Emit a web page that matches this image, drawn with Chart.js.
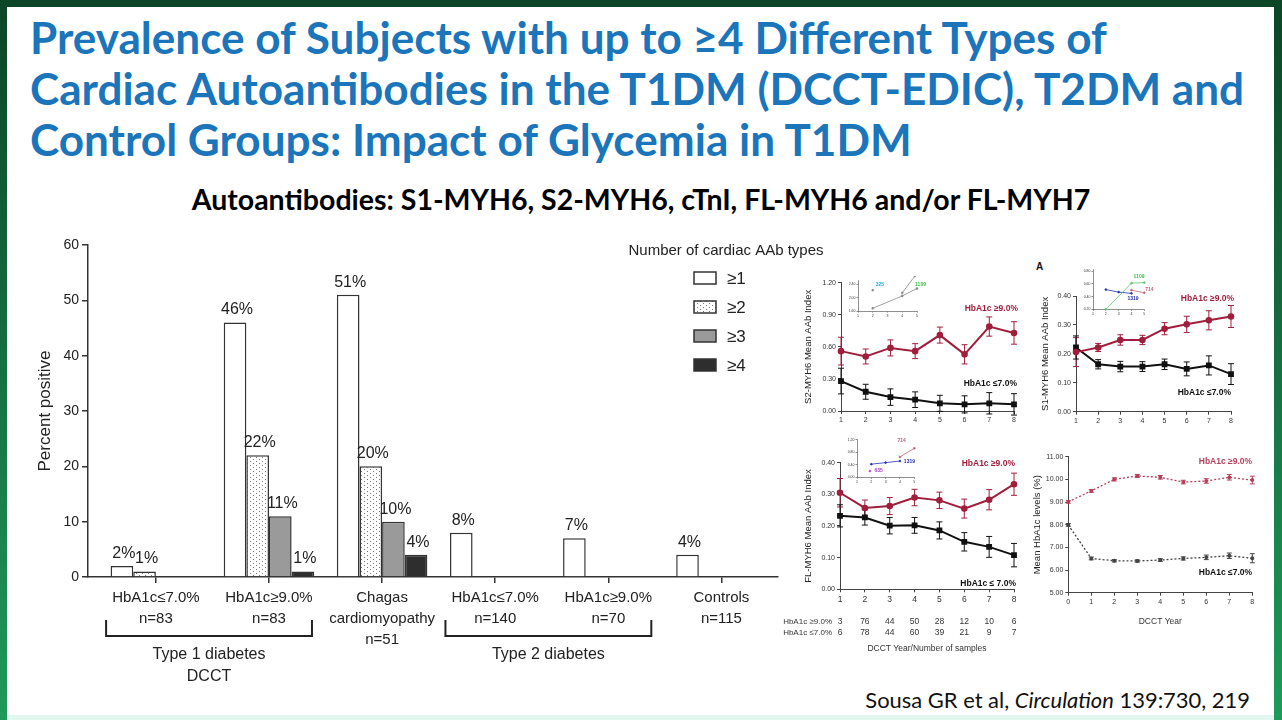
<!DOCTYPE html>
<html><head><meta charset="utf-8">
<script src="https://cdn.jsdelivr.net/npm/chart.js@4.4.1/dist/chart.umd.min.js"></script>
<style>
html,body{margin:0;padding:0;}
body{width:1282px;height:720px;position:relative;overflow:hidden;background:#fff;font-family:"Liberation Sans",Arial,sans-serif;}
.fr{position:absolute;}
#fT{left:0;top:0;width:1282px;height:7px;background:#0c4527;}
#fL{left:0;top:0;width:7px;height:720px;background:linear-gradient(#0c4527,#1f9a5a);}
#fR{right:0;top:0;width:8px;height:720px;background:linear-gradient(#0c4527,#1f9a5a);}
#fB{left:7px;bottom:0;width:1267px;height:5px;background:#e2f8ee;}
#title{position:absolute;left:30px;top:11px;font-family:Lato,"Open Sans",sans-serif;font-weight:bold;color:#1b75bb;font-size:36px;}
#title div{height:51px;line-height:51px;white-space:nowrap;}
#sub{position:absolute;left:0;width:1282px;top:184px;height:30px;line-height:30px;text-align:center;font-family:Lato,"Open Sans",sans-serif;font-weight:bold;color:#000;font-size:22px;white-space:nowrap;}
#cite{position:absolute;right:32px;top:685px;height:30px;line-height:30px;font-family:Lato,"Open Sans",sans-serif;color:#111;font-size:20px;white-space:nowrap;}
#lblA{position:absolute;left:1036px;top:261px;font:bold 10px "Liberation Sans",Arial,sans-serif;color:#111;}
</style></head>
<body>
<div class="fr" id="fT"></div><div class="fr" id="fL"></div><div class="fr" id="fR"></div><div class="fr" id="fB"></div>
<div id="title"><div><span id="t1">Prevalence of Subjects with up to ≥4 Different Types of</span></div><div><span>Cardiac Autoantibodies in the T1DM (DCCT-EDIC), T2DM and</span></div><div><span>Control Groups: Impact of Glycemia in T1DM</span></div></div>
<div id="sub"><span id="subs">Autoantibodies: S1-MYH6, S2-MYH6, cTnI, FL-MYH6 and/or FL-MYH7</span></div>
<div id="cite"><span id="cites">Sousa GR et al, <i>Circulation</i> 139:730, 219</span></div>
<div id="lblA">A</div>
<script>
// ---------------- DATA ----------------
const categories = [["HbA1c≤7.0%","n=83"],["HbA1c≥9.0%","n=83"],["Chagas","cardiomyopathy","n=51"],["HbA1c≤7.0%","n=140"],["HbA1c≥9.0%","n=70"],["Controls","n=115"]];
const seriesNames = ["≥1","≥2","≥3","≥4"];
const ge1 = [2,46,51,8,7,4];
const ge2 = [1,22,20,null,null,null];
const ge3 = [null,11,10,null,null,null];
const ge4 = [null,1,4,null,null,null];
const yTicksMain = [0,10,20,30,40,50,60];
const groupT1 = ["Type 1 diabetes","DCCT"];
const groupT2 = ["Type 2 diabetes"];
const legendTitle = "Number of cardiac AAb types";

const years = [1,2,3,4,5,6,7,8];
const s2High = [0.56,0.51,0.59,0.56,0.71,0.53,0.79,0.73];
const s2HighErr = [0.13,0.07,0.075,0.07,0.075,0.09,0.09,0.105];
const s2Low = [0.28,0.18,0.13,0.106,0.072,0.062,0.072,0.062];
const s2LowErr = [0.12,0.07,0.077,0.073,0.075,0.08,0.1,0.1];
const s2Ticks = [0,0.3,0.6,0.9,1.2];

const s1High = [0.206,0.222,0.248,0.248,0.287,0.302,0.316,0.329];
const s1HighErr = [0.05,0.014,0.018,0.016,0.021,0.028,0.033,0.038];
const s1Low = [0.222,0.164,0.156,0.156,0.164,0.148,0.16,0.13];
const s1LowErr = [0.04,0.016,0.018,0.017,0.018,0.024,0.033,0.036];
const s1Ticks = [0,0.1,0.2,0.3,0.4];

const flHigh = [0.305,0.257,0.263,0.29,0.281,0.255,0.283,0.332];
const flHighErr = [0.045,0.025,0.027,0.026,0.026,0.03,0.032,0.035];
const flLow = [0.232,0.227,0.201,0.202,0.186,0.15,0.134,0.108];
const flLowErr = [0.035,0.024,0.026,0.025,0.027,0.029,0.033,0.037];
const flTicks = [0,0.1,0.2,0.3,0.4];
const nHigh = [3,76,44,50,28,12,10,6];
const nLow = [6,78,44,60,39,21,9,7];

const hbaYears = [0,1,2,3,4,5,6,7,8];
const hbaHigh = [9.01,9.49,10.0,10.15,10.09,9.88,9.93,10.09,9.97];
const hbaHighErr = [0.06,0.06,0.07,0.07,0.08,0.08,0.1,0.12,0.17];
const hbaLow = [7.99,6.51,6.41,6.40,6.44,6.51,6.56,6.63,6.52];
const hbaLowErr = [0.06,0.06,0.05,0.05,0.06,0.07,0.1,0.12,0.2];
const hbaTicks = [5,6,7,8,9,10,11];

const labelHigh = "HbA1c ≥9.0%";
const labelLow = "HbA1c ≤7.0%";

// insets
const insAx1 = [2,4,5], insAy1 = [1.68,2.05,2.27];
const insAx2 = [4,4.85], insAy2 = [2.14,2.64];
const insAx3 = [2], insAy3 = [2.22];
const insATicks = [1.6,2.0,2.4];
const insBgreenX = [2,4,5], insBgreenY = [0.2,0.61,0.62];
const insBblueX = [2,3,4], insBblueY = [0.51,0.47,0.45];
const insBpinkX = [4,5], insBpinkY = [0.50,0.46];
const insBTicks = [0.2,0.4,0.6,0.8];
const insCblueX = [2,3,4], insCblueY = [0.42,0.47,0.52];
const insCpinkX = [4,5], insCpinkY = [0.65,0.93];
const insCpurpX = [1.9], insCpurpY = [0.2];
const insCTicks = [0,0.4,0.8,1.2];
const insXTicks = [1,2,3,4,5];

// ---------------- HELPERS ----------------
const FAM = '"Liberation Sans", Arial, sans-serif';
Chart.defaults.font.family = FAM;
Chart.defaults.color = '#222';
const RED = '#a01e3c', BLK = '#111';
const pts = (xs, ys) => xs.map((x,i)=>({x, y: ys[i]}));

function dotPattern(){
  const c=document.createElement('canvas'); c.width=6; c.height=4;
  const g=c.getContext('2d'); g.fillStyle='#fff'; g.fillRect(0,0,6,4);
  g.fillStyle='#7a7a7a'; g.fillRect(0,0,1,1); g.fillRect(3,2,1,1);
  return g.createPattern(c,'repeat');
}
function placeCanvas(rect){
  const d=document.createElement('div');
  d.style.cssText=`position:absolute;left:${rect[0]}px;top:${rect[1]}px;width:${rect[2]}px;height:${rect[3]}px;`;
  const c=document.createElement('canvas'); c.width=rect[2]; c.height=rect[3];
  c.style.width=rect[2]+'px'; c.style.height=rect[3]+'px';
  d.appendChild(c); document.body.appendChild(d); return c;
}

// ---------------- MAIN BAR CHART ----------------
const mainRect=[10,225,820,470];
const barStyles=[
  {bg:'#ffffff'},{bg:dotPattern()},{bg:'#9a9a9a'},{bg:'#2e2e2e'}
];
const barSeries=[ge1,ge2,ge3,ge4];

const valueLabels={id:'valueLabels',afterDatasetsDraw(chart){
  const ctx=chart.ctx; ctx.save();
  ctx.font='16px '+FAM; ctx.fillStyle='#222'; ctx.textAlign='center'; ctx.textBaseline='alphabetic';
  chart.data.datasets.forEach((ds,di)=>{
    chart.getDatasetMeta(di).data.forEach((el,i)=>{
      const v=ds.data[i].y; if(v==null) return;
      ctx.fillText(v+'%', el.x+2, el.y-8);
    });
  });
  ctx.restore();
}};
const brackets={id:'brackets',afterDraw(chart){
  const ctx=chart.ctx, x=chart.scales.x, a=chart.chartArea;
  const step=x.getPixelForValue(1)-x.getPixelForValue(0);
  ctx.save(); ctx.strokeStyle='#222'; ctx.lineWidth=2;
  ctx.font='16px '+FAM; ctx.fillStyle='#222'; ctx.textAlign='center'; ctx.textBaseline='middle';
  [[0,1,groupT1],[3,4,groupT2]].forEach(([f,t,lab])=>{
    const l=x.getPixelForValue(f)-0.44*step, r=x.getPixelForValue(t)+0.38*step;
    const yT=a.bottom+43, yB=a.bottom+59;
    ctx.beginPath(); ctx.moveTo(l,yT); ctx.lineTo(l,yB); ctx.lineTo(r,yB); ctx.lineTo(r,yT); ctx.stroke();
    lab.forEach((s,k)=>ctx.fillText(s,(l+r)/2,a.bottom+78+k*22));
  });
  ctx.restore();
}};
const barLegend={id:'barLegend',afterDraw(chart){
  const ctx=chart.ctx, a=chart.chartArea; ctx.save();
  ctx.font='15px '+FAM; ctx.fillStyle='#222'; ctx.textAlign='center'; ctx.textBaseline='middle';
  ctx.fillText(legendTitle, a.right-52, a.top+6);
  chart.data.datasets.forEach((ds,i)=>{
    const y=a.top+33+i*29, x=a.right-84;
    ctx.fillStyle=ds.backgroundColor; ctx.fillRect(x,y-6,22,12);
    ctx.strokeStyle='#333'; ctx.lineWidth=1.5; ctx.strokeRect(x,y-6,22,12);
    ctx.fillStyle='#222'; ctx.font='17px '+FAM; ctx.textAlign='left';
    ctx.fillText(ds.label, x+33, y+1);
  });
  ctx.restore();
}};

new Chart(placeCanvas(mainRect),{
  type:'bar',
  data:{datasets:barSeries.map((arr,i)=>({
    label:seriesNames[i], data:arr.map((v,k)=>({x:k,y:v})),
    backgroundColor:barStyles[i].bg, borderColor:'#333', borderWidth:1.5, borderSkipped:'start'
  }))},
  options:{
    responsive:false, animation:false, events:[],
    layout:{padding:{left:0,top:20,right:52,bottom:0}},
    plugins:{legend:{display:false},tooltip:{enabled:false}},
    datasets:{bar:{categoryPercentage:0.8,barPercentage:1.0}},
    scales:{
      x:{type:'linear',min:-0.6,max:5.5,offset:false,
        afterBuildTicks:s=>{s.ticks=categories.map((c,i)=>({value:i}));},
        ticks:{callback:v=>categories[v], font:{size:15,lineHeight:1.4}, color:'#222', maxRotation:0, autoSkip:false, padding:4},
        grid:{display:true,offset:false,drawOnChartArea:false,drawTicks:true,tickLength:6,color:'#333',lineWidth:1.5},
        border:{display:true,color:'#333',width:1.5},
        afterFit:s=>{s.height=118;}
      },
      y:{min:0,max:60,
        afterBuildTicks:s=>{s.ticks=yTicksMain.map(v=>({value:v}));},
        ticks:{font:{size:14},color:'#222',padding:3},
        grid:{drawOnChartArea:false,tickLength:6,color:'#333',lineWidth:1.5},
        border:{color:'#333',width:1.5},
        title:{display:true,text:'Percent positive',font:{size:17},color:'#222',padding:{top:25}},
        afterFit:s=>{s.width=78;}
      }
    }
  },
  plugins:[valueLabels,brackets,barLegend]
});

// ---------------- SMALL LINE CHARTS ----------------
const errPlugin={id:'errbars',beforeDatasetsDraw(chart){
  const ctx=chart.ctx, x=chart.scales.x, y=chart.scales.y;
  chart.data.datasets.forEach(ds=>{
    if(!ds.errors) return;
    ctx.save(); ctx.strokeStyle=ds.errColor||ds.borderColor; ctx.lineWidth=1; ctx.setLineDash([]);
    const cap=ds.cap||3;
    ds.data.forEach((p,i)=>{
      const e=ds.errors[i]; if(e==null) return;
      const px=x.getPixelForValue(p.x), y1=y.getPixelForValue(p.y+e), y2=y.getPixelForValue(p.y-e);
      ctx.beginPath(); ctx.moveTo(px,y1); ctx.lineTo(px,y2);
      ctx.moveTo(px-cap,y1); ctx.lineTo(px+cap,y1); ctx.moveTo(px-cap,y2); ctx.lineTo(px+cap,y2); ctx.stroke();
    });
    ctx.restore();
  });
}};
const textPlugin={id:'texts',afterDraw(chart){
  const o=chart.config.options.plugins.texts; if(!o) return;
  const ctx=chart.ctx, x=chart.scales.x, y=chart.scales.y;
  ctx.save();
  (o.items||[]).forEach(t=>{
    ctx.font=t.font; ctx.fillStyle=t.color; ctx.textAlign=t.align||'center'; ctx.textBaseline='middle';
    ctx.fillText(t.text, x.getPixelForValue(t.x), y.getPixelForValue(t.y));
  });
  if(o.rows){
    const lh=o.rows.lineHeight, top=x.top+o.rows.offset;
    ctx.font=o.rows.font; ctx.fillStyle='#333'; ctx.textAlign='right'; ctx.textBaseline='middle';
    o.rows.labels.forEach((s,k)=>{ if(s) ctx.fillText(s, x.left-8, top+lh*(k+0.5)); });
  }
  ctx.restore();
}};

function makeSmall(o){
  const [cx,cy,cw,ch]=o.rect; const [l,t,r,b]=o.area;
  const c=placeCanvas(o.rect);
  const tf=o.tickFont||7;
  return new Chart(c,{type:'line',data:{datasets:o.datasets},options:{
    responsive:false, animation:false, events:[],
    layout:{padding:{left:0,top:t-cy,right:cx+cw-r,bottom:0}},
    plugins:{legend:{display:false},tooltip:{enabled:false},texts:{items:o.texts||[],rows:o.rows}},
    scales:{
      x:{type:'linear',min:o.xMin,max:o.xMax,
        afterBuildTicks:s=>{s.ticks=o.xTicks.map(v=>({value:v}));},
        ticks:{font:{size:o.xTickFont||tf,lineHeight:o.xLH||1.2},color:'#333',padding:o.xPad??2,callback:o.xCb||(v=>String(v)),maxRotation:0,autoSkip:false},
        grid:{drawOnChartArea:false,tickLength:o.tl??3,color:'#444',lineWidth:o.axW||1},
        border:{color:'#444',width:o.axW||1},
        title:o.xTitle?{display:true,text:o.xTitle,font:{size:8.5},color:'#333',padding:{top:0,bottom:1}}:{display:false},
        afterFit:s=>{s.height=cy+ch-b;}
      },
      y:{min:o.yMin,max:o.yMax,
        afterBuildTicks:s=>{s.ticks=o.yTicks.map(v=>({value:v}));},
        ticks:{font:{size:tf},color:'#333',padding:o.yPad??2,callback:v=>v.toFixed(2)},
        grid:{drawOnChartArea:false,tickLength:o.tl??3,color:'#444',lineWidth:o.axW||1},
        border:{color:'#444',width:o.axW||1},
        title:o.yTitle?{display:true,text:o.yTitle,font:{size:9.5},color:'#222',padding:{top:o.yTitlePad||1}}:{display:false},
        afterFit:s=>{s.width=l-cx;}
      }
    }},plugins:[errPlugin,textPlugin]});
}
function lineDs(xs,ys,errs,color,shape,opts={}){
  return Object.assign({data:pts(xs,ys),errors:errs,borderColor:color,backgroundColor:color,borderWidth:2,
    pointRadius:shape==='rect'?2.7:2.3,pointStyle:shape,tension:0,clip:false},opts);
}
const boldLbl='bold 8.5px '+FAM;

// A: S2-MYH6
makeSmall({rect:[801,272,229,160],area:[841,282.7,1014,411],xMin:1,xMax:8,xTicks:years,yMin:0,yMax:1.2,yTicks:s2Ticks,
  yTitle:'S2-MYH6 Mean AAb Index',yTitlePad:1.3,
  datasets:[lineDs(years,s2High,s2HighErr,RED,'circle'),lineDs(years,s2Low,s2LowErr,BLK,'rect')],
  texts:[{text:labelHigh,x:8.16,y:0.96,color:RED,font:boldLbl,align:'right'},{text:labelLow,x:8.12,y:0.26,color:BLK,font:boldLbl,align:'right'}]});
// B: S1-MYH6
makeSmall({rect:[1037,285,218,147],area:[1076,296,1231,411.7],xMin:1,xMax:8,xTicks:years,yMin:0,yMax:0.4,yTicks:s1Ticks,
  yTitle:'S1-MYH6 Mean AAb Index',yTitlePad:2.3,
  datasets:[lineDs(years,s1High,s1HighErr,RED,'circle'),lineDs(years,s1Low,s1LowErr,BLK,'rect')],
  texts:[{text:labelHigh,x:8.14,y:0.39,color:RED,font:boldLbl,align:'right'},{text:labelLow,x:8.0,y:0.065,color:BLK,font:boldLbl,align:'right'}]});
// C: FL-MYH6 (canvas extends left to hold the sample-count row labels)
makeSmall({rect:[770,452,260,203],area:[840,462.7,1014,589.3],xMin:1,xMax:8,xTicks:years,yMin:0,yMax:0.4,yTicks:flTicks,
  yTitle:'FL-MYH6 Mean AAb Index',yTitlePad:32.3,xTitle:'DCCT Year/Number of samples',
  xTickFont:8.5,xLH:1.3,xCb:v=>[String(v),'',String(nHigh[v-1]),String(nLow[v-1])],
  rows:{labels:['','',labelHigh,labelLow],lineHeight:11.05,offset:5,font:'8px '+FAM},
  datasets:[lineDs(years,flHigh,flHighErr,RED,'circle'),lineDs(years,flLow,flLowErr,BLK,'rect')],
  texts:[{text:labelHigh,x:8.04,y:0.396,color:RED,font:boldLbl,align:'right'},{text:'HbA1c ≤ 7.0%',x:8.08,y:0.017,color:BLK,font:boldLbl,align:'right'}]});
// D: HbA1c
makeSmall({rect:[1030,446,232,182],area:[1068.3,456.7,1252.3,592.7],xMin:0,xMax:8,xTicks:hbaYears,yMin:5,yMax:11,yTicks:hbaTicks,
  yTitle:'Mean HbA1c levels (%)',yTitlePad:1.3,xTitle:'DCCT Year',
  datasets:[lineDs(hbaYears,hbaHigh,hbaHighErr,'#b5405a','circle',{borderWidth:1.3,borderDash:[2,2],pointRadius:1.3,cap:2.5}),
            lineDs(hbaYears,hbaLow,hbaLowErr,'#444','circle',{borderWidth:1.3,borderDash:[2,2],pointRadius:1.3,cap:2.5})],
  texts:[{text:labelHigh,x:7.99,y:10.77,color:'#b5405a',font:boldLbl,align:'right'},{text:labelLow,x:7.99,y:5.87,color:BLK,font:boldLbl,align:'right'}]});

// Insets
const insFont='bold 5px '+FAM;
function insDs(xs,ys,color){return {data:pts(xs,ys),borderColor:color,backgroundColor:color,borderWidth:0.8,pointRadius:0.9,tension:0,clip:false};}
makeSmall({rect:[846,276,88,43],area:[858,280.6,917,311],xMin:1,xMax:5,xTicks:insXTicks,yMin:1.6,yMax:2.5,yTicks:insATicks,
  tickFont:3.5,tl:1.5,xPad:1,yPad:1,axW:0.6,
  datasets:[insDs(insAx1,insAy1,'#888'),insDs(insAx2,insAy2,'#888'),insDs(insAx3,insAy3,'#888')],
  texts:[{text:'325',x:2.49,y:2.4,color:'#2aa9d6',font:insFont},{text:'1109',x:5.24,y:2.4,color:'#3dbb4f',font:insFont}]});
makeSmall({rect:[1081,265,84,52],area:[1093,269.3,1144.3,309.3],xMin:1,xMax:5,xTicks:insXTicks,yMin:0.2,yMax:0.82,yTicks:insBTicks,
  tickFont:3.5,tl:1.5,xPad:1,yPad:1,axW:0.6,
  datasets:[insDs(insBgreenX,insBgreenY,'#5cc46a'),insDs(insBblueX,insBblueY,'#2332a8'),insDs(insBpinkX,insBpinkY,'#c2647a')],
  texts:[{text:'1109',x:4.59,y:0.707,color:'#3dbb4f',font:insFont},{text:'714',x:5.39,y:0.516,color:'#c2647a',font:insFont},{text:'1319',x:4.12,y:0.37,color:'#2332a8',font:insFont}]});
makeSmall({rect:[845,435,80,50],area:[857,439,914.3,477.3],xMin:1,xMax:5,xTicks:insXTicks,yMin:0,yMax:1.2,yTicks:insCTicks,
  tickFont:3.5,tl:1.5,xPad:1,yPad:1,axW:0.6,
  datasets:[insDs(insCblueX,insCblueY,'#2332a8'),insDs(insCpinkX,insCpinkY,'#c2647a'),insDs(insCpurpX,insCpurpY,'#b03ad0')],
  texts:[{text:'714',x:4.12,y:1.17,color:'#c2647a',font:insFont},{text:'1319',x:4.66,y:0.51,color:'#2332a8',font:insFont},{text:'635',x:2.51,y:0.2,color:'#b03ad0',font:insFont}]});

// ---------------- TEXT FITTING ----------------
function fitTo(container, span, target){
  const w=span.getBoundingClientRect().width;
  const fs=parseFloat(getComputedStyle(container).fontSize);
  container.style.fontSize=(fs*target/w)+'px';
}
fitTo(document.getElementById('title'),document.getElementById('t1'),1077);
fitTo(document.getElementById('sub'),document.getElementById('subs'),899);
fitTo(document.getElementById('cite'),document.getElementById('cites'),385);
</script>
</body></html>
